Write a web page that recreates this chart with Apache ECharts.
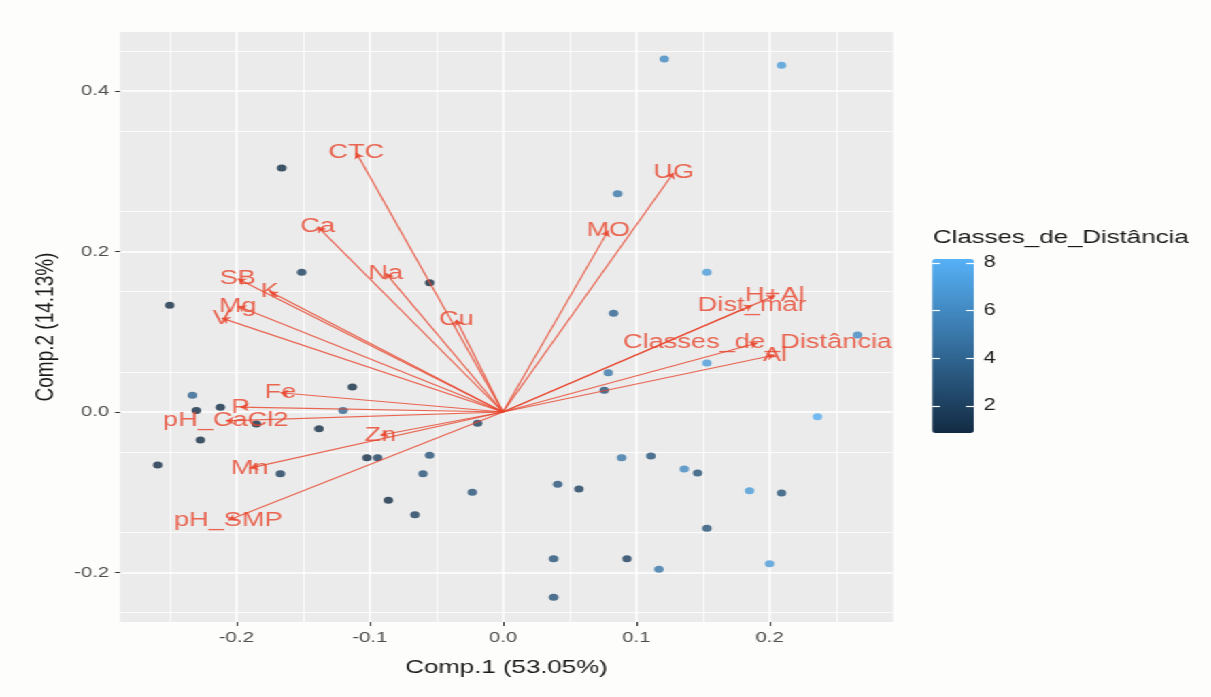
<!DOCTYPE html>
<html>
<head>
<meta charset="utf-8">
<title>PCA biplot</title>
<script src="https://cdn.jsdelivr.net/npm/echarts@6/dist/echarts.min.js"></script>
<style>
  html, body { margin: 0; padding: 0; background: #fdfdfc; overflow: hidden; }
  #chart { height: 697px; transform-origin: 0 0; }
</style>
</head>
<body>
<div id="chart"></div>
<script>
// the source picture is stretched sideways: draw narrow, then widen the canvas
const STRETCH = 1.36;

// sample scores (Comp.1, Comp.2) and their distance class
const scoreX = [0.121, 0.209, -0.166, 0.086, -0.151, -0.055, -0.250, 0.153, 0.083, 0.266,
  0.153, 0.079, 0.076, 0.236, 0.089, 0.111, 0.136, 0.146, 0.041, 0.057,
  0.185, 0.209, 0.153, 0.038, 0.093, 0.117, 0.200, 0.038, -0.113, -0.120,
  -0.233, -0.230, -0.212, -0.185, -0.138, -0.227, -0.259, -0.167, -0.019, -0.102,
  -0.094, -0.055, -0.060, -0.023, -0.086, -0.066];
const scoreY = [0.440, 0.432, 0.304, 0.272, 0.174, 0.161, 0.133, 0.174, 0.123, 0.096,
  0.061, 0.049, 0.027, -0.006, -0.057, -0.055, -0.071, -0.076, -0.090, -0.096,
  -0.098, -0.101, -0.145, -0.183, -0.183, -0.196, -0.189, -0.231, 0.031, 0.002,
  0.021, 0.002, 0.006, -0.015, -0.021, -0.035, -0.066, -0.077, -0.014, -0.057,
  -0.057, -0.054, -0.077, -0.100, -0.110, -0.128];
const scoreClass = [6, 7, 1, 5, 2, 1, 1, 7, 4, 6,
  7, 5, 3, 8, 5, 3, 6, 3, 3, 2,
  7, 3, 3, 3, 2, 5, 7, 3, 1, 4,
  4, 1, 1, 1, 1, 1, 1, 2, 2, 1,
  2, 3, 3, 3, 1, 2];

// variable loadings
const loadNames = ["CTC", "UG", "MO", "Ca", "Na", "Cu", "SB", "K", "Mg", "V",
  "H+Al", "Dist_mar", "Classes_de_Distância", "Al", "Fe", "P", "pH_CaCl2", "Zn", "Mn", "pH_SMP"];
const loadX = [-0.110, 0.128, 0.079, -0.139, -0.088, -0.035, -0.199, -0.175, -0.199, -0.211,
  0.204, 0.187, 0.191, 0.204, -0.167, -0.197, -0.208, -0.092, -0.190, -0.206];
const loadY = [0.323, 0.298, 0.226, 0.231, 0.173, 0.115, 0.166, 0.150, 0.132, 0.117,
  0.145, 0.133, 0.086, 0.071, 0.024, 0.006, -0.011, -0.029, -0.070, -0.135];

const xTicks = [-0.2, -0.1, 0, 0.1, 0.2];
const yTicks = [-0.2, 0, 0.2, 0.4];
const classTicks = [2, 4, 6, 8];

const el = document.getElementById("chart");
el.style.width = (1211 / STRETCH) + "px";
el.style.transform = "scaleX(" + STRETCH + ")";

const FONT = "Liberation Sans";
const RED = "#e9432b";
const px = (v) => v / STRETCH;   // real-x pixels -> chart pixels

const chart = echarts.init(el, null, { renderer: "canvas" });
chart.setOption({
  animation: false,
  backgroundColor: "#fdfdfc",
  textStyle: { fontFamily: FONT },
  title: {
    text: "Classes_de_Distância", left: px(933), top: 228, padding: 0,
    textStyle: { fontSize: 19, fontWeight: "normal", color: "#1a1a1a", fontFamily: FONT },
  },
  grid: [
    { left: px(120), top: 32, width: px(893 - 120), height: 590, show: true, backgroundColor: "#ebebeb", borderWidth: 0 },
    { left: px(932), top: 259, width: px(42), height: 174 },
  ],
  visualMap: {
    type: "continuous", seriesIndex: 0, dimension: 2, min: 0.87, max: 8.17,
    left: px(932), top: 259, padding: 0, itemWidth: px(42), itemHeight: 174,
    calculable: false, hoverLink: false, text: null, showLabel: false,
    inRange: { color: ["#132B43", "#56B1F7"] },
  },
  xAxis: [
    {
      type: "value", gridIndex: 0, min: -0.2873, max: 0.2926,
      name: "Comp.1 (53.05%)", nameLocation: "middle", nameGap: 36,
      nameTextStyle: { fontSize: 19, color: "#1a1a1a", fontFamily: FONT },
      axisLine: { show: false, onZero: false },
      axisTick: { show: true, length: 4, customValues: xTicks, lineStyle: { color: "#333", width: 1 } },
      axisLabel: { customValues: xTicks, formatter: (v) => v.toFixed(1), color: "#4d4d4d", fontSize: 15, margin: 8 },
      splitLine: { show: true, lineStyle: { color: "#fff", width: 1.5 } },
      minorTick: { show: false, splitNumber: 2 },
      minorSplitLine: { show: true, lineStyle: { color: "#fff", width: 0.8 } },
    },
    { type: "value", gridIndex: 1, show: false, min: 0, max: 1 },
  ],
  yAxis: [
    {
      type: "value", gridIndex: 0, min: -0.2617, max: 0.4735,
      name: "Comp.2 (14.13%)", nameLocation: "middle", nameGap: 45, nameRotate: 90,
      nameTextStyle: { fontSize: 19, color: "#1a1a1a", fontFamily: FONT },
      axisLine: { show: false, onZero: false },
      axisTick: { show: true, length: px(5), customValues: yTicks, lineStyle: { color: "#333", width: 1 } },
      axisLabel: { customValues: yTicks, formatter: (v) => v.toFixed(1), color: "#4d4d4d", fontSize: 15, margin: 8 },
      splitLine: { show: true, lineStyle: { color: "#fff", width: 1.5 } },
      minorTick: { show: false, splitNumber: 2 },
      minorSplitLine: { show: true, lineStyle: { color: "#fff", width: 0.8 } },
    },
    {
      type: "value", gridIndex: 1, position: "right", min: 0.87, max: 8.17, z: 10,
      axisLine: { show: false, onZero: false }, splitLine: { show: false },
      axisTick: { show: true, inside: true, length: px(8), customValues: classTicks, lineStyle: { color: "#fff", width: 1.2 } },
      axisLabel: { customValues: classTicks, color: "#1a1a1a", fontSize: 16, margin: 7 },
    },
    {
      type: "value", gridIndex: 1, position: "left", min: 0.87, max: 8.17, z: 10,
      axisLine: { show: false, onZero: false }, splitLine: { show: false }, axisLabel: { show: false },
      axisTick: { show: true, inside: true, length: px(8), customValues: classTicks, lineStyle: { color: "#fff", width: 1.2 } },
    },
  ],
  series: [
    {
      // sample scores, coloured by class
      type: "scatter", xAxisIndex: 0, yAxisIndex: 0, symbolSize: 7, z: 2,
      data: scoreX.map((x, i) => [x, scoreY[i], scoreClass[i]]),
    },
    {
      // loading arrows
      type: "lines", coordinateSystem: "cartesian2d", xAxisIndex: 0, yAxisIndex: 0, z: 3,
      symbol: ["none", "arrow"], symbolSize: 6,
      lineStyle: { color: RED, width: 1.2, opacity: 0.8 },
      data: loadNames.map((n, i) => ({ coords: [[0, 0], [loadX[i], loadY[i]]] })),
    },
    {
      // loading labels
      type: "scatter", xAxisIndex: 0, yAxisIndex: 0, symbolSize: 1, z: 4,
      itemStyle: { color: "rgba(0,0,0,0)" },
      label: { show: true, position: "inside", formatter: "{b}", color: RED, fontSize: 20, fontFamily: FONT },
      data: loadNames.map((n, i) => ({ name: n, value: [loadX[i], loadY[i]] })),
    },
  ],
});
</script>
</body>
</html>
